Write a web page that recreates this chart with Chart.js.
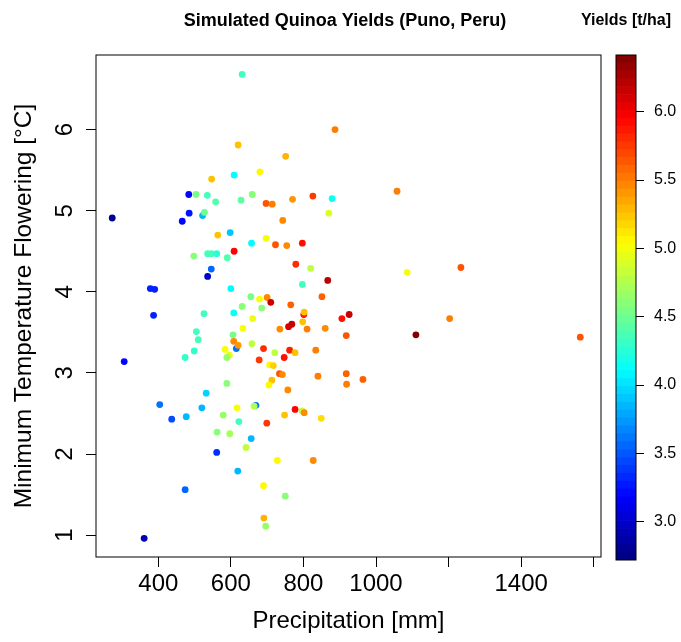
<!DOCTYPE html>
<html><head><meta charset="utf-8">
<script src="https://cdn.jsdelivr.net/npm/chart.js@4"></script>
<style>
html,body{margin:0;padding:0;background:#fff;}
#wrap{position:relative;width:681px;height:642px;}
canvas{position:absolute;left:0;top:0;}
</style></head><body>
<div id="wrap"><canvas id="main" width="681" height="642"></canvas><canvas id="cbar" width="681" height="642"></canvas></div>
<script>
const precipitation = [631,887,620,751,680,547,609,484,504,535,558,628,659,697,714,770,826,879,870,743,
  273,485,466,522,527,564,598,697,657,723,754,797,498,536,546,561,590,609,546,536,
  779,820,797,867,378,390,600,655,679,700,710,631,685,765,851,801,802,926,387,526,
  608,1058,1086,1234,798,906,505,510,499,474,306,615,606,633,660,608,620,584,596,589,
  658,735,759,768,810,860,918,690,721,762,777,834,678,747,707,717,734,742,713,705,
  757,840,918,919,589,532,404,520,437,477,617,669,664,579,622,777,796,802,748,849,
  699,562,597,656,642,561,619,728,827,474,690,750,691,696,361,1203,1110,1563,964];
const minTemp = [6.68,6.00,5.81,5.67,5.48,5.39,5.44,5.20,5.20,5.19,5.11,5.13,5.20,5.09,5.08,5.14,5.18,5.15,4.97,4.88,
  4.91,4.97,4.87,4.94,4.98,4.70,4.73,4.66,4.60,4.58,4.57,4.60,4.44,4.47,4.47,4.47,4.42,4.50,4.28,4.19,
  4.34,4.29,4.09,4.14,4.04,4.03,4.04,3.94,3.91,3.93,3.87,3.82,3.80,3.84,3.94,3.72,3.75,3.72,3.71,3.73,
  3.74,5.24,4.24,4.30,3.63,3.67,3.51,3.41,3.27,3.19,3.14,3.30,3.47,3.55,3.67,3.39,3.34,3.29,3.22,3.19,
  3.36,3.54,3.57,3.60,3.54,3.55,3.46,3.30,3.25,3.28,3.25,3.28,3.16,3.19,3.10,3.09,2.99,2.98,2.91,2.85,
  2.79,2.96,2.99,2.86,2.87,2.75,2.61,2.57,2.43,2.46,2.57,2.60,2.59,2.48,2.40,2.55,2.53,2.51,2.48,2.44,
  2.38,2.27,2.25,2.19,2.08,2.02,1.79,1.92,1.92,1.56,1.61,1.48,1.21,1.11,0.96,3.67,3.47,3.44,2.92];
const yields = [4.35,5.5,5.25,5.3,5.05,5.25,4.1,3.2,4.55,4.35,4.4,4.45,4.6,5.65,5.5,5.4,5.75,4.15,4.9,5.45,
  2.8,3.25,3.2,3.85,4.5,5.25,3.9,5.0,4.1,5.65,5.45,5.9,4.6,4.35,4.35,4.25,4.4,5.95,3.55,3.0,
  5.8,4.8,4.35,6.2,3.3,3.3,4.1,4.55,5.0,5.45,6.15,4.6,4.6,5.6,5.6,5.9,5.25,6.15,3.3,4.35,
  4.15,5.5,5.0,5.65,5.25,5.9,4.35,4.35,4.3,4.3,3.2,3.6,4.55,5.0,4.95,5.45,5.4,5.0,4.95,4.65,
  4.8,5.45,6.1,6.15,5.5,5.45,5.65,5.8,4.8,5.85,5.25,5.5,5.75,5.9,5.05,5.2,5.65,5.45,5.25,5.05,
  5.45,5.5,5.6,5.5,4.6,3.95,3.6,3.85,3.45,3.85,5.0,3.6,4.75,4.65,4.35,5.95,4.8,5.45,5.25,5.15,
  5.75,4.6,4.7,3.85,4.8,3.35,3.85,5.05,5.45,3.55,5.05,4.6,5.3,4.65,2.9,5.5,6.4,5.65,5.6];

const xTickValues = [400,600,800,1000,1200,1400,1600];
const xTickLabels = ['400','600','800','1000','','1400',''];
const yTickValues = [1,2,3,4,5,6];
const yTickLabels = ['1','2','3','4','5','6'];
const cbTickValues = [3.0,3.5,4.0,4.5,5.0,5.5,6.0];
const cbTickLabels = ['3.0','3.5','4.0','4.5','5.0','5.5','6.0'];
const xRange = [228.3, 1620.1];
const yRange = [0.73, 6.92];
const zRange = [2.72, 6.415];
const jetColors = ['#00007F','#0000FF','#007FFF','#00FFFF','#7FFF7F','#FFFF00','#FF7F00','#FF0000','#7F0000'];
const nSegments = 64;

function hex(h){return [parseInt(h.slice(1,3),16),parseInt(h.slice(3,5),16),parseInt(h.slice(5,7),16)];}
function jet(v){
  const n = jetColors.length - 1;
  let t = (v - zRange[0]) / (zRange[1] - zRange[0]);
  t = Math.min(1, Math.max(0, t)) * n;
  const i = Math.min(Math.floor(t), n - 1), f = t - i;
  const a = hex(jetColors[i]), b = hex(jetColors[i+1]);
  return 'rgb(' + a.map((c,k)=>Math.round(c + (b[k]-c)*f)).join(',') + ')';
}

const FONT = 'Liberation Sans, Arial, Helvetica, sans-serif';

const framePlugin = {
  id: 'frame',
  afterDraw(chart){
    const {ctx, chartArea: a} = chart;
    ctx.save();
    ctx.strokeStyle = '#000';
    ctx.lineWidth = 1;
    ctx.strokeRect(a.left, a.top, a.right - a.left, a.bottom - a.top);
    ctx.restore();
  }
};
const titlePlugin = {
  id: 'titles',
  afterDraw(chart){
    const {ctx} = chart;
    ctx.save();
    ctx.fillStyle = '#000';
    ctx.textBaseline = 'middle';
    ctx.font = 'bold 18px ' + FONT;
    ctx.textAlign = 'center';
    ctx.fillText('Simulated Quinoa Yields (Puno, Peru)', 345, 21);
    ctx.font = 'bold 16px ' + FONT;
    ctx.textAlign = 'right';
    ctx.fillText('Yields [t/ha]', 671, 21);
    ctx.restore();
  }
};

new Chart(document.getElementById('main'), {
  type: 'scatter',
  data: {
    datasets: [{
      data: precipitation.map((p, i) => ({x: p, y: minTemp[i]})),
      backgroundColor: yields.map(jet),
      pointRadius: 3.4,
      pointHoverRadius: 3.4,
      pointBorderWidth: 0,
      borderWidth: 0
    }]
  },
  options: {
    responsive: false,
    animation: false,
    devicePixelRatio: 1,
    layout: {padding: {left: 0, right: 80, top: 55, bottom: 0}},
    plugins: {legend: {display: false}, tooltip: {enabled: false}},
    events: [],
    scales: {
      x: {
        type: 'linear', min: xRange[0], max: xRange[1],
        afterBuildTicks: s => { s.ticks = xTickValues.map(v => ({value: v})); },
        afterFit: s => { s.height = 85; },
        ticks: {autoSkip: false, maxRotation: 0, minRotation: 0, padding: 3, color: '#000',
          font: {family: FONT, size: 24}, callback: (v, i) => xTickLabels[i]},
        grid: {drawOnChartArea: false, drawTicks: true, tickLength: 10, color: '#000', lineWidth: 1},
        border: {display: false},
        title: {display: true, text: 'Precipitation [mm]', color: '#000',
          font: {family: FONT, size: 24}, padding: {top: 0, bottom: 6.6}}
      },
      y: {
        type: 'linear', min: yRange[0], max: yRange[1],
        afterBuildTicks: s => { s.ticks = yTickValues.map(v => ({value: v})); },
        afterFit: s => { s.width = 96; },
        ticks: {autoSkip: false, minRotation: 90, maxRotation: 90, crossAlign: 'center', padding: 14,
          color: '#000', font: {family: FONT, size: 24}, callback: (v, i) => yTickLabels[i]},
        grid: {drawOnChartArea: false, drawTicks: true, tickLength: 10, color: '#000', lineWidth: 1},
        border: {display: false},
        title: {display: true, text: 'Minimum Temperature Flowering [°C]', color: '#000',
          font: {family: FONT, size: 24.5}, padding: {top: 9.4, bottom: 0}}
      }
    }
  },
  plugins: [framePlugin, titlePlugin]
});

const segLo = [], segHi = [];
for (let i = 0; i < nSegments; i++) {
  segLo.push(zRange[0] + (zRange[1] - zRange[0]) * i / nSegments);
  segHi.push(zRange[0] + (zRange[1] - zRange[0]) * (i + 1) / nSegments);
}

new Chart(document.getElementById('cbar'), {
  type: 'bar',
  data: {
    labels: [''],
    datasets: segLo.map((lo, i) => ({
      data: [[lo, segHi[i]]],
      backgroundColor: jet((lo + segHi[i]) / 2),
      borderWidth: 0,
      barPercentage: 1,
      categoryPercentage: 1
    }))
  },
  options: {
    responsive: false,
    animation: false,
    devicePixelRatio: 1,
    events: [],
    layout: {padding: {left: 616, right: 0, top: 55, bottom: 82}},
    plugins: {legend: {display: false}, tooltip: {enabled: false}},
    scales: {
      x: {type: 'category', stacked: true, display: false},
      y: {
        type: 'linear', position: 'right', min: zRange[0], max: zRange[1],
        afterBuildTicks: s => { s.ticks = cbTickValues.map(v => ({value: v})); },
        afterFit: s => { s.width = 45; },
        ticks: {autoSkip: false, padding: 10, color: '#000', font: {family: FONT, size: 16},
          callback: (v, i) => cbTickLabels[i]},
        grid: {drawOnChartArea: false, drawTicks: true, tickLength: 8, color: '#000'},
        border: {display: false}
      }
    }
  },
  plugins: [framePlugin]
});
</script>
</body></html>
